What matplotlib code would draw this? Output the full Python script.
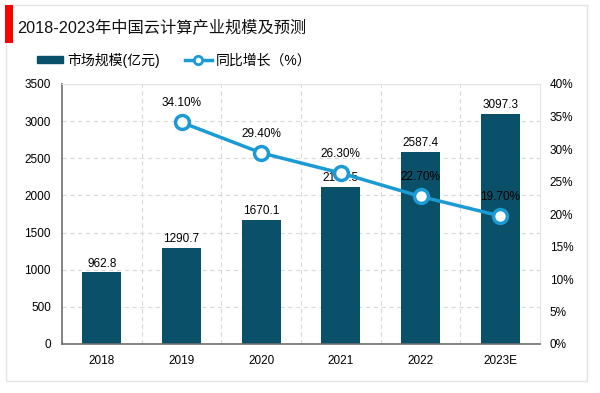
import numpy as np
from matplotlib import pyplot as plt
from matplotlib.patches import Rectangle
from matplotlib.lines import Line2D

plt.rcParams['font.family'] = ['Liberation Sans', 'Noto Sans CJK SC', 'DejaVu Sans']

years = ['2018', '2019', '2020', '2021', '2022', '2023E']
market = [962.8, 1290.7, 1670.1, 2109.5, 2587.4, 3097.3]
growth_years = ['2019', '2020', '2021', '2022', '2023E']
growth = [34.1, 29.4, 26.3, 22.7, 19.7]

bar_color = '#0a5068'
line_color = '#1b9ad3'

fig = plt.figure(figsize=(6, 3.93), dpi=100)

# outer frame and red mark
fig.patches.append(Rectangle((6/600, 1-381/393), 581/600, 376/393, transform=fig.transFigure,
                             fill=False, edgecolor='#e3e3e3', linewidth=1))
fig.patches.append(Rectangle((5/600, 1-43/393), 8/600, 38/393, transform=fig.transFigure,
                             color='#ff0000', linewidth=0))
fig.text(17/600, 1-27/393, '2018-2023年中国云计算产业规模及预测', fontsize=11.7,
         va='center', ha='left', color='#111111')

ax = fig.add_axes([62/600, 1-344/393, 478/600, 260/393])
x = np.arange(len(years))
ax.bar(x, market, width=0.49, color=bar_color, zorder=2)
for xi, v in zip(x, market):
    ax.text(xi, v + 40, '%.1f' % v, ha='center', va='bottom', fontsize=8.5, zorder=5)

ax.set_xlim(-0.5, len(years) - 0.5)
ax.set_ylim(0, 3500)
ax.set_yticks(np.arange(0, 3501, 500))
ax.set_xticks(x)
ax.set_xticklabels(years)
ax.set_xticks(np.arange(0.5, len(years) - 1, 1), minor=True)
ax.tick_params(axis='both', length=0, labelsize=8.5, pad=8)
ax.tick_params(axis='x', which='minor', length=0)
ax.yaxis.grid(True, linestyle=(0, (4, 3)), color='#d9d9d9', linewidth=0.8, zorder=0)
ax.xaxis.grid(True, which='minor', linestyle=(0, (4, 3)), color='#d9d9d9', linewidth=0.8, zorder=0)
ax.set_axisbelow(True)
for s in ['top', 'right']:
    ax.spines[s].set_color('#e3e3e3')
for s in ['left', 'bottom']:
    ax.spines[s].set_color('#6e6e6e')
    ax.spines[s].set_linewidth(1.2)

ax2 = ax.twinx()
gx = [years.index(y) for y in growth_years]
ax2.plot(gx, growth, color=line_color, linewidth=2.5, marker='o', markersize=10,
         markerfacecolor='white', markeredgecolor=line_color, markeredgewidth=2.5, zorder=4)
for xi, v in zip(gx, growth):
    ax2.text(xi, v + 2.0, '%.2f%%' % v, ha='center', va='bottom', fontsize=8.5, zorder=5)
ax2.set_ylim(0, 40)
ax2.set_yticks(np.arange(0, 41, 5))
ax2.set_yticklabels(['%d%%' % t for t in range(0, 41, 5)])
ax2.tick_params(axis='y', length=0, labelsize=8.5, pad=7)
for s in ['top', 'right', 'left', 'bottom']:
    ax2.spines[s].set_visible(False)

handles = [Rectangle((0, 0), 1, 1, color=bar_color),
           Line2D([], [], color=line_color, linewidth=2.5, marker='o', markersize=6,
                  markerfacecolor='white', markeredgecolor=line_color, markeredgewidth=2)]
fig.legend(handles, ['市场规模(亿元)', '同比增长（%）'], loc='center left',
           bbox_to_anchor=(37/600, 1-60/393), ncol=2, frameon=False, fontsize=10,
           borderaxespad=0, borderpad=0,
           handlelength=1.9, handleheight=0.45, columnspacing=1.8, handletextpad=0.3)

plt.savefig('out.png', dpi=100)
